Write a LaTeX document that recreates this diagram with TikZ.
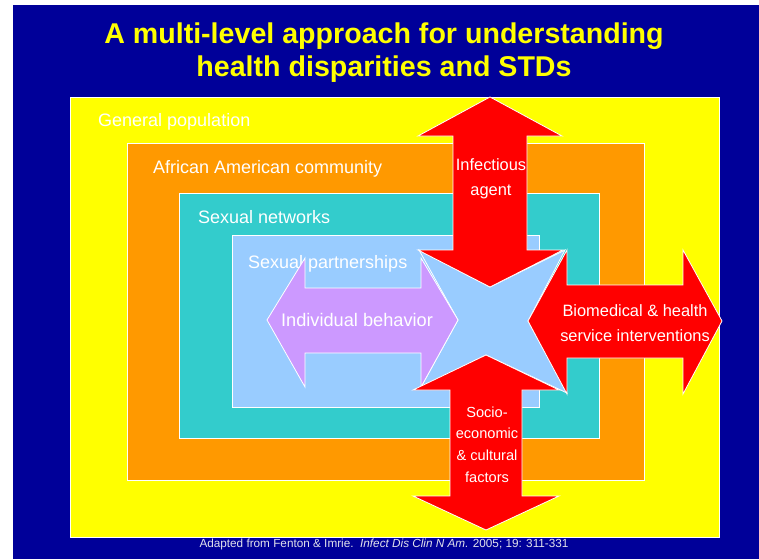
\documentclass[tikz,border=0pt]{standalone}
\usepackage{fontspec}
\setmainfont{Liberation Sans}
\definecolor{bgblue}{RGB}{0,0,153}
\definecolor{ttlyellow}{RGB}{255,255,0}
\definecolor{genyellow}{RGB}{255,255,0}
\definecolor{aaorange}{RGB}{255,153,0}
\definecolor{netteal}{RGB}{51,204,204}
\definecolor{partblue}{RGB}{153,204,255}
\definecolor{behpurple}{RGB}{204,153,255}
\definecolor{arrred}{RGB}{255,0,0}
\definecolor{foot}{RGB}{225,225,235}
\begin{document}
\begin{tikzpicture}[x=1pt,y=-1pt,
  levelbox/.style={draw=white,line width=0.8pt},
  arrowshape/.style={draw=white,line width=0.8pt,line join=miter},
  levellabel/.style={anchor=base west,inner sep=0pt,text=white,font=\fontsize{18}{20}\selectfont},
  arrowlabel/.style={align=center,inner sep=0pt,text=white,font=\fontsize{16.4}{25}\selectfont},
  titleline/.style={anchor=base,inner sep=0pt,text=ttlyellow,font=\bfseries\fontsize{28.6}{33}\selectfont},
]
\useasboundingbox (0,0) rectangle (759,559);
\fill[white] (0,0) rectangle (759,559);
\fill[bgblue] (13,5) rectangle (759,559);
% title
\node[titleline] (title1) at (384,44) {A multi-level approach for understanding};
\node[titleline] (title2) at (384,77) {health disparities and STDs};
% nested levels
\filldraw[levelbox,fill=genyellow] (70,97) rectangle (719,537);
\filldraw[levelbox,fill=aaorange] (127,143) rectangle (644,480);
\filldraw[levelbox,fill=netteal] (179,193) rectangle (599,438);
\filldraw[levelbox,fill=partblue] (232,235) rectangle (539,407);
\node[levellabel] (gen) at (98,126) {General population};
\node[levellabel] (aa) at (153,173) {African American community};
\node[levellabel] (net) at (198,223) {Sexual networks};
\node[levellabel] (part) at (248,268) {Sexual partnerships};
% central star
\filldraw[arrowshape,fill=partblue] (419,250) -- (490,287) -- (565,250) -- (528,321) -- (567,393)
  -- (486,355) -- (421,387) -- (458,320) -- cycle;
% individual behavior arrow
\filldraw[arrowshape,fill=behpurple] (267,320) -- (305,258) -- (305,288) -- (421,288) -- (421,258)
  -- (458,320) -- (421,387) -- (421,353) -- (305,353) -- (305,387) -- cycle;
\node[arrowlabel,font=\fontsize{18.2}{22}\selectfont] (beh) at (357,320) {Individual behavior};
% infectious agent arrow
\filldraw[arrowshape,fill=arrred] (490,97) -- (562,136) -- (527,136) -- (527,250) -- (563,250)
  -- (490,287) -- (418,250) -- (453,250) -- (453,136) -- (418,136) -- cycle;
\node[arrowlabel] (inf) at (491,178.5) {Infectious\\agent};
% socio-economic arrow
\filldraw[arrowshape,fill=arrred] (486,355) -- (559,390) -- (522,390) -- (522,496) -- (559,496)
  -- (486,530) -- (413,496) -- (450,496) -- (450,390) -- (413,390) -- cycle;
\node[arrowlabel,font=\fontsize{14.6}{21.7}\selectfont] (soc) at (487,444.5) {Socio-\\economic\\\& cultural\\factors};
% biomedical arrow
\filldraw[arrowshape,fill=arrred] (528,321) -- (567,250) -- (567,285) -- (683,285) -- (683,250)
  -- (722,321) -- (683,394) -- (683,358) -- (567,358) -- (567,394) -- cycle;
\node[arrowlabel] (bio) at (635,323) {Biomedical \& health\\service interventions};
% footer
\node[anchor=base,inner sep=0pt,text=foot,font=\fontsize{11.75}{13}\selectfont] (src) at (384,547)
  {Adapted from Fenton \& Imrie.\ \ \textit{Infect Dis Clin N Am.} 2005; 19: 311-331};
\end{tikzpicture}
\end{document}
